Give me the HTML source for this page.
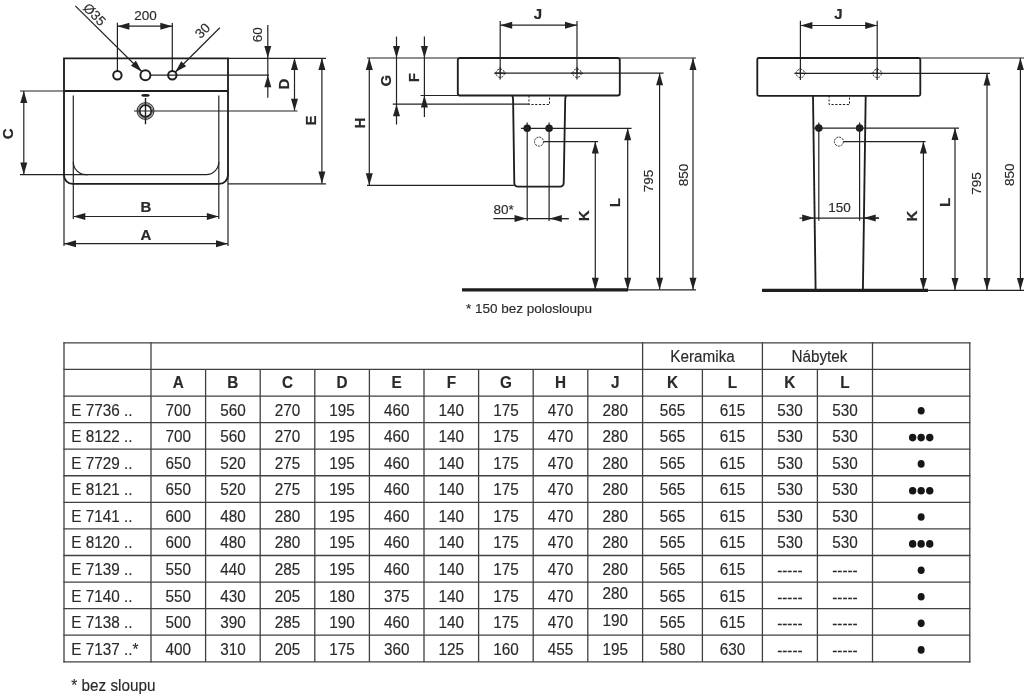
<!DOCTYPE html>
<html><head><meta charset="utf-8"><style>
html,body{margin:0;padding:0;background:#fff;width:1024px;height:695px;overflow:hidden}
svg{display:block;filter:blur(0.35px)}
text{font-family:"Liberation Sans",sans-serif}
</style></head><body>
<svg width="1024" height="695" viewBox="0 0 1024 695">
<rect width="1024" height="695" fill="#fff"/>
<path d="M64,58.4 H228 V175 A8.9,8.9 0 0 1 219.1,183.9 H72.5 A8.5,8.5 0 0 1 64,175.4 Z" stroke="#1e1e1e" stroke-width="1.85" fill="none"/>
<line x1="64" y1="91" x2="228" y2="91" stroke="#1e1e1e" stroke-width="2"/>
<line x1="73.3" y1="95.5" x2="73.3" y2="219" stroke="#222222" stroke-width="1.2"/>
<line x1="218.8" y1="95.5" x2="218.8" y2="219" stroke="#222222" stroke-width="1.2"/>
<path d="M73.3,162 A12.6,12.6 0 0 0 85.9,174.6 H206.2 A12.6,12.6 0 0 0 218.8,162" stroke="#222222" stroke-width="1.2" fill="none"/>
<line x1="20" y1="91" x2="64" y2="91" stroke="#222222" stroke-width="1.2"/>
<line x1="20" y1="174.6" x2="88" y2="174.6" stroke="#222222" stroke-width="1.2"/>
<line x1="23.8" y1="91" x2="23.8" y2="174.6" stroke="#222222" stroke-width="1.2"/>
<polygon points="23.8,91 27.3,103 20.3,103" fill="#222222"/>
<polygon points="23.8,174.6 20.3,162.6 27.3,162.6" fill="#222222"/>
<text x="7.7" y="133.8" font-size="15" font-weight="bold" text-anchor="middle" dominant-baseline="central" fill="#2a2a2a" transform="rotate(-90 7.7 133.8)" stroke="#1e1e1e" stroke-width="0.2">C</text>
<line x1="73.3" y1="216.5" x2="218.8" y2="216.5" stroke="#222222" stroke-width="1.2"/>
<polygon points="73.3,216.5 85.3,213 85.3,220" fill="#222222"/>
<polygon points="218.8,216.5 206.8,220 206.8,213" fill="#222222"/>
<text x="145.8" y="206" font-size="15" font-weight="bold" text-anchor="middle" dominant-baseline="central" fill="#2a2a2a" stroke="#1e1e1e" stroke-width="0.2">B</text>
<line x1="64" y1="174" x2="64" y2="246" stroke="#222222" stroke-width="1.2"/>
<line x1="228" y1="172" x2="228" y2="246" stroke="#222222" stroke-width="1.2"/>
<line x1="64" y1="243.7" x2="228" y2="243.7" stroke="#222222" stroke-width="1.2"/>
<polygon points="64,243.7 76,240.2 76,247.2" fill="#222222"/>
<polygon points="228,243.7 216,247.2 216,240.2" fill="#222222"/>
<text x="145.8" y="234.7" font-size="15" font-weight="bold" text-anchor="middle" dominant-baseline="central" fill="#2a2a2a" stroke="#1e1e1e" stroke-width="0.2">A</text>
<circle cx="117.4" cy="75.2" r="4.2" stroke="#1e1e1e" stroke-width="2" fill="none"/>
<circle cx="145.4" cy="75.2" r="5" stroke="#1e1e1e" stroke-width="2" fill="none"/>
<circle cx="172.3" cy="75.2" r="4.2" stroke="#1e1e1e" stroke-width="2" fill="none"/>
<line x1="150.4" y1="75.2" x2="269" y2="75.2" stroke="#222222" stroke-width="1.2"/>
<line x1="117.4" y1="22.7" x2="117.4" y2="71" stroke="#222222" stroke-width="1.2"/>
<line x1="172.3" y1="22.9" x2="172.3" y2="71" stroke="#222222" stroke-width="1.2"/>
<line x1="117.4" y1="26.2" x2="172.3" y2="26.2" stroke="#222222" stroke-width="1.2"/>
<polygon points="117.4,26.2 129.4,22.7 129.4,29.7" fill="#222222"/>
<polygon points="172.3,26.2 160.3,29.7 160.3,22.7" fill="#222222"/>
<text x="145.5" y="15.5" font-size="13.5" text-anchor="middle" dominant-baseline="central" fill="#2a2a2a" stroke="#2a2a2a" stroke-width="0.15">200</text>
<line x1="75.3" y1="5.9" x2="141.9" y2="71.7" stroke="#222222" stroke-width="1.2"/>
<polygon points="141.9,71.7 130.94,65.69 135.89,60.74" fill="#222222"/>
<text x="94.5" y="14.5" font-size="13.5" text-anchor="middle" dominant-baseline="central" fill="#2a2a2a" transform="rotate(45 94.5 14.5)" stroke="#2a2a2a" stroke-width="0.15">Ø35</text>
<line x1="219.8" y1="27.8" x2="175.2" y2="72.2" stroke="#222222" stroke-width="1.2"/>
<polygon points="175.2,72.2 181.21,61.24 186.16,66.19" fill="#222222"/>
<text x="202.6" y="30.7" font-size="13.5" text-anchor="middle" dominant-baseline="central" fill="#2a2a2a" transform="rotate(-45 202.6 30.7)" stroke="#2a2a2a" stroke-width="0.15">30</text>
<circle cx="145.5" cy="111" r="8.4" stroke="#3a3a3a" stroke-width="1.1" fill="none"/>
<circle cx="145.5" cy="111" r="7.2" stroke="#6a6a6a" stroke-width="0.9" fill="none"/>
<circle cx="145.5" cy="111" r="5.8" stroke="#1e1e1e" stroke-width="1.7" fill="none"/>
<line x1="134" y1="111" x2="297.5" y2="111" stroke="#222222" stroke-width="1.2"/>
<line x1="145.5" y1="98" x2="145.5" y2="124.2" stroke="#1e1e1e" stroke-width="1.4"/>
<ellipse cx="145.5" cy="95.4" rx="4.2" ry="1.4" fill="#1e1e1e"/>
<line x1="228" y1="58.4" x2="326" y2="58.4" stroke="#222222" stroke-width="1.2"/>
<line x1="228" y1="183.9" x2="326" y2="183.9" stroke="#222222" stroke-width="1.2"/>
<line x1="267.8" y1="25" x2="267.8" y2="97.7" stroke="#222222" stroke-width="1.2"/>
<polygon points="267.8,58 264.3,46 271.3,46" fill="#222222"/>
<polygon points="267.8,75.2 271.3,87.2 264.3,87.2" fill="#222222"/>
<text x="257.3" y="34.7" font-size="13.5" text-anchor="middle" dominant-baseline="central" fill="#2a2a2a" transform="rotate(-90 257.3 34.7)" stroke="#2a2a2a" stroke-width="0.15">60</text>
<line x1="294.5" y1="58" x2="294.5" y2="110.7" stroke="#222222" stroke-width="1.2"/>
<polygon points="294.5,58 298,70 291,70" fill="#222222"/>
<polygon points="294.5,110.7 291,98.7 298,98.7" fill="#222222"/>
<text x="283.1" y="84" font-size="15" font-weight="bold" text-anchor="middle" dominant-baseline="central" fill="#2a2a2a" transform="rotate(-90 283.1 84)" stroke="#1e1e1e" stroke-width="0.2">D</text>
<line x1="321.9" y1="58" x2="321.9" y2="183.6" stroke="#222222" stroke-width="1.2"/>
<polygon points="321.9,58 325.4,70 318.4,70" fill="#222222"/>
<polygon points="321.9,183.6 318.4,171.6 325.4,171.6" fill="#222222"/>
<text x="310.9" y="120.6" font-size="15" font-weight="bold" text-anchor="middle" dominant-baseline="central" fill="#2a2a2a" transform="rotate(-90 310.9 120.6)" stroke="#1e1e1e" stroke-width="0.2">E</text>
<rect x="457.8" y="58" width="162" height="37.5" rx="2" stroke="#1e1e1e" stroke-width="1.85" fill="none"/>
<path d="M512.3,95.5 Q513.1,97 513.1,100 L514.3,183 Q514.5,186.6 518,186.6 H560 Q563.5,186.6 563.7,183 L565.2,100 Q565.2,97 566.2,95.5" stroke="#1e1e1e" stroke-width="1.85" fill="none"/>
<path d="M529,95.5 V104.5 H549.5 V95.5" stroke="#222222" stroke-width="1" fill="none" stroke-dasharray="2.2,1.6"/>
<line x1="392.7" y1="104.2" x2="529" y2="104.2" stroke="#222222" stroke-width="1.2"/>
<line x1="420.6" y1="95.5" x2="457.8" y2="95.5" stroke="#222222" stroke-width="1.2"/>
<line x1="367" y1="58" x2="457.8" y2="58" stroke="#222222" stroke-width="1.2"/>
<line x1="619.8" y1="58" x2="696" y2="58" stroke="#222222" stroke-width="1.2"/>
<line x1="495" y1="73.2" x2="663.6" y2="73.2" stroke="#222222" stroke-width="1.2"/>
<circle cx="500.2" cy="73.2" r="4.2" stroke="#222222" stroke-width="1" fill="none" stroke-dasharray="2,1.2"/>
<line x1="494.2" y1="73.2" x2="506.2" y2="73.2" stroke="#222222" stroke-width="1.2"/>
<line x1="500.2" y1="67" x2="500.2" y2="79.5" stroke="#222222" stroke-width="1.2"/>
<circle cx="577" cy="73.2" r="4.2" stroke="#222222" stroke-width="1" fill="none" stroke-dasharray="2,1.2"/>
<line x1="571" y1="73.2" x2="583" y2="73.2" stroke="#222222" stroke-width="1.2"/>
<line x1="577" y1="67" x2="577" y2="79.5" stroke="#222222" stroke-width="1.2"/>
<line x1="500.2" y1="21" x2="500.2" y2="73.2" stroke="#222222" stroke-width="1.2"/>
<line x1="577" y1="21" x2="577" y2="73.2" stroke="#222222" stroke-width="1.2"/>
<line x1="500.2" y1="25.2" x2="577" y2="25.2" stroke="#222222" stroke-width="1.2"/>
<polygon points="500.2,25.2 512.2,21.7 512.2,28.7" fill="#222222"/>
<polygon points="577,25.2 565,28.7 565,21.7" fill="#222222"/>
<text x="538" y="13.5" font-size="15" font-weight="bold" text-anchor="middle" dominant-baseline="central" fill="#2a2a2a" stroke="#1e1e1e" stroke-width="0.2">J</text>
<line x1="396.5" y1="36.6" x2="396.5" y2="124.5" stroke="#222222" stroke-width="1.2"/>
<polygon points="396.5,58 393,46 400,46" fill="#222222"/>
<polygon points="396.5,104.2 400,116.2 393,116.2" fill="#222222"/>
<text x="386" y="80.6" font-size="15" font-weight="bold" text-anchor="middle" dominant-baseline="central" fill="#2a2a2a" transform="rotate(-90 386 80.6)" stroke="#1e1e1e" stroke-width="0.2">G</text>
<line x1="424.4" y1="36.6" x2="424.4" y2="117" stroke="#222222" stroke-width="1.2"/>
<polygon points="424.4,58 420.9,46 427.9,46" fill="#222222"/>
<polygon points="424.4,95.5 427.9,107.5 420.9,107.5" fill="#222222"/>
<text x="413.2" y="77.6" font-size="15" font-weight="bold" text-anchor="middle" dominant-baseline="central" fill="#2a2a2a" transform="rotate(-90 413.2 77.6)" stroke="#1e1e1e" stroke-width="0.2">F</text>
<line x1="369.3" y1="58" x2="369.3" y2="185.2" stroke="#222222" stroke-width="1.2"/>
<polygon points="369.3,58 372.8,70 365.8,70" fill="#222222"/>
<polygon points="369.3,185.2 365.8,173.2 372.8,173.2" fill="#222222"/>
<text x="359" y="123" font-size="15" font-weight="bold" text-anchor="middle" dominant-baseline="central" fill="#2a2a2a" transform="rotate(-90 359 123)" stroke="#1e1e1e" stroke-width="0.2">H</text>
<line x1="367" y1="185.3" x2="514.5" y2="185.3" stroke="#222222" stroke-width="1.2"/>
<circle cx="527.2" cy="128.3" r="3.8" stroke="#1e1e1e" stroke-width="0" fill="#1e1e1e"/>
<line x1="527.2" y1="122.5" x2="527.2" y2="220.9" stroke="#222222" stroke-width="1.2"/>
<circle cx="549.1" cy="128.3" r="3.8" stroke="#1e1e1e" stroke-width="0" fill="#1e1e1e"/>
<line x1="549.1" y1="122.5" x2="549.1" y2="220.9" stroke="#222222" stroke-width="1.2"/>
<line x1="521" y1="128.3" x2="631.5" y2="128.3" stroke="#222222" stroke-width="1.2"/>
<circle cx="539" cy="141.6" r="4.5" stroke="#222222" stroke-width="1" fill="none" stroke-dasharray="2,1"/>
<line x1="543.5" y1="141.6" x2="598" y2="141.6" stroke="#222222" stroke-width="1.2"/>
<line x1="493.4" y1="218.6" x2="568.7" y2="218.6" stroke="#222222" stroke-width="1.2"/>
<polygon points="526.5,218.6 514.5,222.1 514.5,215.1" fill="#222222"/>
<line x1="549.8" y1="218.6" x2="568.7" y2="218.6" stroke="#222222" stroke-width="1.2"/>
<polygon points="549.8,218.6 561.8,215.1 561.8,222.1" fill="#222222"/>
<text x="493.4" y="209.5" font-size="13.5" text-anchor="start" dominant-baseline="central" fill="#2a2a2a" stroke="#2a2a2a" stroke-width="0.15">80*</text>
<line x1="595.3" y1="141.6" x2="595.3" y2="289.7" stroke="#222222" stroke-width="1.2"/>
<polygon points="595.3,141.6 598.8,153.6 591.8,153.6" fill="#222222"/>
<polygon points="595.3,289.7 591.8,277.7 598.8,277.7" fill="#222222"/>
<text x="584" y="215.9" font-size="15" font-weight="bold" text-anchor="middle" dominant-baseline="central" fill="#2a2a2a" transform="rotate(-90 584 215.9)" stroke="#1e1e1e" stroke-width="0.2">K</text>
<line x1="627.7" y1="128.3" x2="627.7" y2="289.7" stroke="#222222" stroke-width="1.2"/>
<polygon points="627.7,128.3 631.2,140.3 624.2,140.3" fill="#222222"/>
<polygon points="627.7,289.7 624.2,277.7 631.2,277.7" fill="#222222"/>
<text x="615" y="202.7" font-size="15" font-weight="bold" text-anchor="middle" dominant-baseline="central" fill="#2a2a2a" transform="rotate(-90 615 202.7)" stroke="#1e1e1e" stroke-width="0.2">L</text>
<line x1="659.6" y1="73.2" x2="659.6" y2="289.7" stroke="#222222" stroke-width="1.2"/>
<polygon points="659.6,73.2 663.1,85.2 656.1,85.2" fill="#222222"/>
<polygon points="659.6,289.7 656.1,277.7 663.1,277.7" fill="#222222"/>
<text x="648.7" y="181" font-size="13.5" text-anchor="middle" dominant-baseline="central" fill="#2a2a2a" transform="rotate(-90 648.7 181)" stroke="#2a2a2a" stroke-width="0.15">795</text>
<line x1="693" y1="58" x2="693" y2="289.7" stroke="#222222" stroke-width="1.2"/>
<polygon points="693,58 696.5,70 689.5,70" fill="#222222"/>
<polygon points="693,289.7 689.5,277.7 696.5,277.7" fill="#222222"/>
<text x="683.7" y="175" font-size="13.5" text-anchor="middle" dominant-baseline="central" fill="#2a2a2a" transform="rotate(-90 683.7 175)" stroke="#2a2a2a" stroke-width="0.15">850</text>
<line x1="462" y1="289.8" x2="628" y2="289.8" stroke="#1e1e1e" stroke-width="3.2"/>
<line x1="628" y1="289.8" x2="696" y2="289.8" stroke="#222222" stroke-width="1.2"/>
<text x="466" y="308.5" font-size="13.5" text-anchor="start" dominant-baseline="central" fill="#2a2a2a" stroke="#2a2a2a" stroke-width="0.15">* 150 bez polosloupu</text>
<rect x="757.3" y="58" width="163" height="37.8" rx="1.5" stroke="#1e1e1e" stroke-width="1.85" fill="none"/>
<line x1="920.4" y1="58" x2="1024" y2="58" stroke="#222222" stroke-width="1.2"/>
<line x1="795" y1="73.4" x2="990" y2="73.4" stroke="#222222" stroke-width="1.2"/>
<circle cx="800.4" cy="73.4" r="4.2" stroke="#222222" stroke-width="1" fill="none" stroke-dasharray="2,1.2"/>
<line x1="794.4" y1="73.4" x2="806.4" y2="73.4" stroke="#222222" stroke-width="1.2"/>
<line x1="800.4" y1="67.4" x2="800.4" y2="79.9" stroke="#222222" stroke-width="1.2"/>
<circle cx="877.2" cy="73.4" r="4.2" stroke="#222222" stroke-width="1" fill="none" stroke-dasharray="2,1.2"/>
<line x1="871.2" y1="73.4" x2="883.2" y2="73.4" stroke="#222222" stroke-width="1.2"/>
<line x1="877.2" y1="67.4" x2="877.2" y2="79.9" stroke="#222222" stroke-width="1.2"/>
<line x1="800.4" y1="20.7" x2="800.4" y2="73.4" stroke="#222222" stroke-width="1.2"/>
<line x1="877.2" y1="20.7" x2="877.2" y2="73.4" stroke="#222222" stroke-width="1.2"/>
<line x1="800.4" y1="25.5" x2="877.2" y2="25.5" stroke="#222222" stroke-width="1.2"/>
<polygon points="800.4,25.5 812.4,22 812.4,29" fill="#222222"/>
<polygon points="877.2,25.5 865.2,29 865.2,22" fill="#222222"/>
<text x="838.4" y="13.8" font-size="15" font-weight="bold" text-anchor="middle" dominant-baseline="central" fill="#2a2a2a" stroke="#1e1e1e" stroke-width="0.2">J</text>
<line x1="813" y1="95.5" x2="815.6" y2="290" stroke="#1e1e1e" stroke-width="1.85"/>
<line x1="865.7" y1="95.5" x2="862.9" y2="290" stroke="#1e1e1e" stroke-width="1.85"/>
<path d="M829.1,95.5 V104.5 H849.5 V95.5" stroke="#222222" stroke-width="1" fill="none" stroke-dasharray="2.2,1.6"/>
<circle cx="818.8" cy="128.1" r="3.8" stroke="#1e1e1e" stroke-width="0" fill="#1e1e1e"/>
<line x1="818.8" y1="122.5" x2="818.8" y2="220.8" stroke="#222222" stroke-width="1.2"/>
<circle cx="859.6" cy="128.1" r="3.8" stroke="#1e1e1e" stroke-width="0" fill="#1e1e1e"/>
<line x1="859.6" y1="122.5" x2="859.6" y2="220.8" stroke="#222222" stroke-width="1.2"/>
<line x1="813" y1="128.1" x2="959" y2="128.1" stroke="#222222" stroke-width="1.2"/>
<circle cx="838.9" cy="141.6" r="4.5" stroke="#222222" stroke-width="1" fill="none" stroke-dasharray="2,1"/>
<line x1="843.4" y1="141.6" x2="925.6" y2="141.6" stroke="#222222" stroke-width="1.2"/>
<line x1="799.5" y1="218.1" x2="879" y2="218.1" stroke="#222222" stroke-width="1.2"/>
<polygon points="814.2,218.1 802.2,221.6 802.2,214.6" fill="#222222"/>
<line x1="863.7" y1="218.1" x2="879" y2="218.1" stroke="#222222" stroke-width="1.2"/>
<polygon points="863.7,218.1 875.7,214.6 875.7,221.6" fill="#222222"/>
<text x="839.6" y="207.4" font-size="13.5" text-anchor="middle" dominant-baseline="central" fill="#2a2a2a" stroke="#2a2a2a" stroke-width="0.15">150</text>
<line x1="923.4" y1="141.6" x2="923.4" y2="290" stroke="#222222" stroke-width="1.2"/>
<polygon points="923.4,141.6 926.9,153.6 919.9,153.6" fill="#222222"/>
<polygon points="923.4,290 919.9,278 926.9,278" fill="#222222"/>
<text x="911.8" y="216" font-size="15" font-weight="bold" text-anchor="middle" dominant-baseline="central" fill="#2a2a2a" transform="rotate(-90 911.8 216)" stroke="#1e1e1e" stroke-width="0.2">K</text>
<line x1="955" y1="128.1" x2="955" y2="290" stroke="#222222" stroke-width="1.2"/>
<polygon points="955,128.1 958.5,140.1 951.5,140.1" fill="#222222"/>
<polygon points="955,290 951.5,278 958.5,278" fill="#222222"/>
<text x="944.5" y="202.5" font-size="15" font-weight="bold" text-anchor="middle" dominant-baseline="central" fill="#2a2a2a" transform="rotate(-90 944.5 202.5)" stroke="#1e1e1e" stroke-width="0.2">L</text>
<line x1="987" y1="73.4" x2="987" y2="290" stroke="#222222" stroke-width="1.2"/>
<polygon points="987,73.4 990.5,85.4 983.5,85.4" fill="#222222"/>
<polygon points="987,290 983.5,278 990.5,278" fill="#222222"/>
<text x="976.5" y="183.4" font-size="13.5" text-anchor="middle" dominant-baseline="central" fill="#2a2a2a" transform="rotate(-90 976.5 183.4)" stroke="#2a2a2a" stroke-width="0.15">795</text>
<line x1="1020.4" y1="58" x2="1020.4" y2="290" stroke="#222222" stroke-width="1.2"/>
<polygon points="1020.4,58 1023.9,70 1016.9,70" fill="#222222"/>
<polygon points="1020.4,290 1016.9,278 1023.9,278" fill="#222222"/>
<text x="1009.7" y="174.8" font-size="13.5" text-anchor="middle" dominant-baseline="central" fill="#2a2a2a" transform="rotate(-90 1009.7 174.8)" stroke="#2a2a2a" stroke-width="0.15">850</text>
<line x1="762" y1="290.3" x2="928" y2="290.3" stroke="#1e1e1e" stroke-width="3.2"/>
<line x1="928" y1="290.3" x2="1024" y2="290.3" stroke="#222222" stroke-width="1.2"/>
<line x1="63.4" y1="342.9" x2="970.4" y2="342.9" stroke="#404040" stroke-width="1.3"/>
<line x1="63.4" y1="369.47" x2="970.4" y2="369.47" stroke="#404040" stroke-width="1.3"/>
<line x1="63.4" y1="396.05" x2="970.4" y2="396.05" stroke="#404040" stroke-width="1.3"/>
<line x1="63.4" y1="422.62" x2="970.4" y2="422.62" stroke="#404040" stroke-width="1.3"/>
<line x1="63.4" y1="449.2" x2="970.4" y2="449.2" stroke="#404040" stroke-width="1.3"/>
<line x1="63.4" y1="475.77" x2="970.4" y2="475.77" stroke="#404040" stroke-width="1.3"/>
<line x1="63.4" y1="502.35" x2="970.4" y2="502.35" stroke="#404040" stroke-width="1.3"/>
<line x1="63.4" y1="528.92" x2="970.4" y2="528.92" stroke="#404040" stroke-width="1.3"/>
<line x1="63.4" y1="555.5" x2="970.4" y2="555.5" stroke="#404040" stroke-width="1.3"/>
<line x1="63.4" y1="582.07" x2="970.4" y2="582.07" stroke="#404040" stroke-width="1.3"/>
<line x1="63.4" y1="608.65" x2="970.4" y2="608.65" stroke="#404040" stroke-width="1.3"/>
<line x1="63.4" y1="635.22" x2="970.4" y2="635.22" stroke="#404040" stroke-width="1.3"/>
<line x1="63.4" y1="661.8" x2="970.4" y2="661.8" stroke="#404040" stroke-width="1.3"/>
<line x1="64" y1="342.3" x2="64" y2="662.4" stroke="#404040" stroke-width="1.3"/>
<line x1="151" y1="342.3" x2="151" y2="662.4" stroke="#404040" stroke-width="1.3"/>
<line x1="205.6" y1="369.47" x2="205.6" y2="661.8" stroke="#404040" stroke-width="1.3"/>
<line x1="260.2" y1="369.47" x2="260.2" y2="661.8" stroke="#404040" stroke-width="1.3"/>
<line x1="314.8" y1="369.47" x2="314.8" y2="661.8" stroke="#404040" stroke-width="1.3"/>
<line x1="369.4" y1="369.47" x2="369.4" y2="661.8" stroke="#404040" stroke-width="1.3"/>
<line x1="424" y1="369.47" x2="424" y2="661.8" stroke="#404040" stroke-width="1.3"/>
<line x1="478.6" y1="369.47" x2="478.6" y2="661.8" stroke="#404040" stroke-width="1.3"/>
<line x1="533.2" y1="369.47" x2="533.2" y2="661.8" stroke="#404040" stroke-width="1.3"/>
<line x1="587.8" y1="369.47" x2="587.8" y2="661.8" stroke="#404040" stroke-width="1.3"/>
<line x1="642.6" y1="342.3" x2="642.6" y2="662.4" stroke="#404040" stroke-width="1.3"/>
<line x1="702.4" y1="369.47" x2="702.4" y2="661.8" stroke="#404040" stroke-width="1.3"/>
<line x1="762.4" y1="342.3" x2="762.4" y2="662.4" stroke="#404040" stroke-width="1.3"/>
<line x1="817.4" y1="369.47" x2="817.4" y2="661.8" stroke="#404040" stroke-width="1.3"/>
<line x1="872.5" y1="342.3" x2="872.5" y2="662.4" stroke="#404040" stroke-width="1.3"/>
<line x1="969.8" y1="342.3" x2="969.8" y2="662.4" stroke="#404040" stroke-width="1.3"/>
<text x="0" y="0" font-size="15.3" text-anchor="middle" dominant-baseline="central" fill="#2a2a2a" transform="translate(702.5 356.19) scale(1 1.1)" stroke="#2a2a2a" stroke-width="0.15">Keramika</text>
<text x="0" y="0" font-size="15.3" text-anchor="middle" dominant-baseline="central" fill="#2a2a2a" transform="translate(819.45 356.19) scale(1 1.1)" stroke="#2a2a2a" stroke-width="0.15">Nábytek</text>
<text x="0" y="0" font-size="15.3" font-weight="bold" text-anchor="middle" dominant-baseline="central" fill="#2a2a2a" transform="translate(178.3 381.76) scale(1 1.1)" stroke="#2a2a2a" stroke-width="0.15">A</text>
<text x="0" y="0" font-size="15.3" font-weight="bold" text-anchor="middle" dominant-baseline="central" fill="#2a2a2a" transform="translate(232.9 381.76) scale(1 1.1)" stroke="#2a2a2a" stroke-width="0.15">B</text>
<text x="0" y="0" font-size="15.3" font-weight="bold" text-anchor="middle" dominant-baseline="central" fill="#2a2a2a" transform="translate(287.5 381.76) scale(1 1.1)" stroke="#2a2a2a" stroke-width="0.15">C</text>
<text x="0" y="0" font-size="15.3" font-weight="bold" text-anchor="middle" dominant-baseline="central" fill="#2a2a2a" transform="translate(342.1 381.76) scale(1 1.1)" stroke="#2a2a2a" stroke-width="0.15">D</text>
<text x="0" y="0" font-size="15.3" font-weight="bold" text-anchor="middle" dominant-baseline="central" fill="#2a2a2a" transform="translate(396.7 381.76) scale(1 1.1)" stroke="#2a2a2a" stroke-width="0.15">E</text>
<text x="0" y="0" font-size="15.3" font-weight="bold" text-anchor="middle" dominant-baseline="central" fill="#2a2a2a" transform="translate(451.3 381.76) scale(1 1.1)" stroke="#2a2a2a" stroke-width="0.15">F</text>
<text x="0" y="0" font-size="15.3" font-weight="bold" text-anchor="middle" dominant-baseline="central" fill="#2a2a2a" transform="translate(505.9 381.76) scale(1 1.1)" stroke="#2a2a2a" stroke-width="0.15">G</text>
<text x="0" y="0" font-size="15.3" font-weight="bold" text-anchor="middle" dominant-baseline="central" fill="#2a2a2a" transform="translate(560.5 381.76) scale(1 1.1)" stroke="#2a2a2a" stroke-width="0.15">H</text>
<text x="0" y="0" font-size="15.3" font-weight="bold" text-anchor="middle" dominant-baseline="central" fill="#2a2a2a" transform="translate(615.2 381.76) scale(1 1.1)" stroke="#2a2a2a" stroke-width="0.15">J</text>
<text x="0" y="0" font-size="15.3" font-weight="bold" text-anchor="middle" dominant-baseline="central" fill="#2a2a2a" transform="translate(672.5 381.76) scale(1 1.1)" stroke="#2a2a2a" stroke-width="0.15">K</text>
<text x="0" y="0" font-size="15.3" font-weight="bold" text-anchor="middle" dominant-baseline="central" fill="#2a2a2a" transform="translate(732.4 381.76) scale(1 1.1)" stroke="#2a2a2a" stroke-width="0.15">L</text>
<text x="0" y="0" font-size="15.3" font-weight="bold" text-anchor="middle" dominant-baseline="central" fill="#2a2a2a" transform="translate(789.9 381.76) scale(1 1.1)" stroke="#2a2a2a" stroke-width="0.15">K</text>
<text x="0" y="0" font-size="15.3" font-weight="bold" text-anchor="middle" dominant-baseline="central" fill="#2a2a2a" transform="translate(844.95 381.76) scale(1 1.1)" stroke="#2a2a2a" stroke-width="0.15">L</text>
<text x="0" y="0" font-size="15.3" text-anchor="start" dominant-baseline="central" fill="#2a2a2a" transform="translate(71.3 409.34) scale(1 1.1)" stroke="#2a2a2a" stroke-width="0.15">E 7736 ..</text>
<text x="0" y="0" font-size="15.3" text-anchor="middle" dominant-baseline="central" fill="#2a2a2a" transform="translate(178.3 409.34) scale(1 1.1)" stroke="#2a2a2a" stroke-width="0.15">700</text>
<text x="0" y="0" font-size="15.3" text-anchor="middle" dominant-baseline="central" fill="#2a2a2a" transform="translate(232.9 409.34) scale(1 1.1)" stroke="#2a2a2a" stroke-width="0.15">560</text>
<text x="0" y="0" font-size="15.3" text-anchor="middle" dominant-baseline="central" fill="#2a2a2a" transform="translate(287.5 409.34) scale(1 1.1)" stroke="#2a2a2a" stroke-width="0.15">270</text>
<text x="0" y="0" font-size="15.3" text-anchor="middle" dominant-baseline="central" fill="#2a2a2a" transform="translate(342.1 409.34) scale(1 1.1)" stroke="#2a2a2a" stroke-width="0.15">195</text>
<text x="0" y="0" font-size="15.3" text-anchor="middle" dominant-baseline="central" fill="#2a2a2a" transform="translate(396.7 409.34) scale(1 1.1)" stroke="#2a2a2a" stroke-width="0.15">460</text>
<text x="0" y="0" font-size="15.3" text-anchor="middle" dominant-baseline="central" fill="#2a2a2a" transform="translate(451.3 409.34) scale(1 1.1)" stroke="#2a2a2a" stroke-width="0.15">140</text>
<text x="0" y="0" font-size="15.3" text-anchor="middle" dominant-baseline="central" fill="#2a2a2a" transform="translate(505.9 409.34) scale(1 1.1)" stroke="#2a2a2a" stroke-width="0.15">175</text>
<text x="0" y="0" font-size="15.3" text-anchor="middle" dominant-baseline="central" fill="#2a2a2a" transform="translate(560.5 409.34) scale(1 1.1)" stroke="#2a2a2a" stroke-width="0.15">470</text>
<text x="0" y="0" font-size="15.3" text-anchor="middle" dominant-baseline="central" fill="#2a2a2a" transform="translate(615.2 409.34) scale(1 1.1)" stroke="#2a2a2a" stroke-width="0.15">280</text>
<text x="0" y="0" font-size="15.3" text-anchor="middle" dominant-baseline="central" fill="#2a2a2a" transform="translate(672.5 409.34) scale(1 1.1)" stroke="#2a2a2a" stroke-width="0.15">565</text>
<text x="0" y="0" font-size="15.3" text-anchor="middle" dominant-baseline="central" fill="#2a2a2a" transform="translate(732.4 409.34) scale(1 1.1)" stroke="#2a2a2a" stroke-width="0.15">615</text>
<text x="0" y="0" font-size="15.3" text-anchor="middle" dominant-baseline="central" fill="#2a2a2a" transform="translate(789.9 409.34) scale(1 1.1)" stroke="#2a2a2a" stroke-width="0.15">530</text>
<text x="0" y="0" font-size="15.3" text-anchor="middle" dominant-baseline="central" fill="#2a2a2a" transform="translate(844.95 409.34) scale(1 1.1)" stroke="#2a2a2a" stroke-width="0.15">530</text>
<ellipse cx="921.15" cy="410.74" rx="3.5" ry="3.8" fill="#161616"/>
<text x="0" y="0" font-size="15.3" text-anchor="start" dominant-baseline="central" fill="#2a2a2a" transform="translate(71.3 435.91) scale(1 1.1)" stroke="#2a2a2a" stroke-width="0.15">E 8122 ..</text>
<text x="0" y="0" font-size="15.3" text-anchor="middle" dominant-baseline="central" fill="#2a2a2a" transform="translate(178.3 435.91) scale(1 1.1)" stroke="#2a2a2a" stroke-width="0.15">700</text>
<text x="0" y="0" font-size="15.3" text-anchor="middle" dominant-baseline="central" fill="#2a2a2a" transform="translate(232.9 435.91) scale(1 1.1)" stroke="#2a2a2a" stroke-width="0.15">560</text>
<text x="0" y="0" font-size="15.3" text-anchor="middle" dominant-baseline="central" fill="#2a2a2a" transform="translate(287.5 435.91) scale(1 1.1)" stroke="#2a2a2a" stroke-width="0.15">270</text>
<text x="0" y="0" font-size="15.3" text-anchor="middle" dominant-baseline="central" fill="#2a2a2a" transform="translate(342.1 435.91) scale(1 1.1)" stroke="#2a2a2a" stroke-width="0.15">195</text>
<text x="0" y="0" font-size="15.3" text-anchor="middle" dominant-baseline="central" fill="#2a2a2a" transform="translate(396.7 435.91) scale(1 1.1)" stroke="#2a2a2a" stroke-width="0.15">460</text>
<text x="0" y="0" font-size="15.3" text-anchor="middle" dominant-baseline="central" fill="#2a2a2a" transform="translate(451.3 435.91) scale(1 1.1)" stroke="#2a2a2a" stroke-width="0.15">140</text>
<text x="0" y="0" font-size="15.3" text-anchor="middle" dominant-baseline="central" fill="#2a2a2a" transform="translate(505.9 435.91) scale(1 1.1)" stroke="#2a2a2a" stroke-width="0.15">175</text>
<text x="0" y="0" font-size="15.3" text-anchor="middle" dominant-baseline="central" fill="#2a2a2a" transform="translate(560.5 435.91) scale(1 1.1)" stroke="#2a2a2a" stroke-width="0.15">470</text>
<text x="0" y="0" font-size="15.3" text-anchor="middle" dominant-baseline="central" fill="#2a2a2a" transform="translate(615.2 435.91) scale(1 1.1)" stroke="#2a2a2a" stroke-width="0.15">280</text>
<text x="0" y="0" font-size="15.3" text-anchor="middle" dominant-baseline="central" fill="#2a2a2a" transform="translate(672.5 435.91) scale(1 1.1)" stroke="#2a2a2a" stroke-width="0.15">565</text>
<text x="0" y="0" font-size="15.3" text-anchor="middle" dominant-baseline="central" fill="#2a2a2a" transform="translate(732.4 435.91) scale(1 1.1)" stroke="#2a2a2a" stroke-width="0.15">615</text>
<text x="0" y="0" font-size="15.3" text-anchor="middle" dominant-baseline="central" fill="#2a2a2a" transform="translate(789.9 435.91) scale(1 1.1)" stroke="#2a2a2a" stroke-width="0.15">530</text>
<text x="0" y="0" font-size="15.3" text-anchor="middle" dominant-baseline="central" fill="#2a2a2a" transform="translate(844.95 435.91) scale(1 1.1)" stroke="#2a2a2a" stroke-width="0.15">530</text>
<ellipse cx="912.65" cy="437.61" rx="3.7" ry="3.8" fill="#161616"/>
<ellipse cx="921.15" cy="437.61" rx="3.7" ry="3.8" fill="#161616"/>
<ellipse cx="929.75" cy="437.61" rx="3.7" ry="3.8" fill="#161616"/>
<text x="0" y="0" font-size="15.3" text-anchor="start" dominant-baseline="central" fill="#2a2a2a" transform="translate(71.3 462.49) scale(1 1.1)" stroke="#2a2a2a" stroke-width="0.15">E 7729 ..</text>
<text x="0" y="0" font-size="15.3" text-anchor="middle" dominant-baseline="central" fill="#2a2a2a" transform="translate(178.3 462.49) scale(1 1.1)" stroke="#2a2a2a" stroke-width="0.15">650</text>
<text x="0" y="0" font-size="15.3" text-anchor="middle" dominant-baseline="central" fill="#2a2a2a" transform="translate(232.9 462.49) scale(1 1.1)" stroke="#2a2a2a" stroke-width="0.15">520</text>
<text x="0" y="0" font-size="15.3" text-anchor="middle" dominant-baseline="central" fill="#2a2a2a" transform="translate(287.5 462.49) scale(1 1.1)" stroke="#2a2a2a" stroke-width="0.15">275</text>
<text x="0" y="0" font-size="15.3" text-anchor="middle" dominant-baseline="central" fill="#2a2a2a" transform="translate(342.1 462.49) scale(1 1.1)" stroke="#2a2a2a" stroke-width="0.15">195</text>
<text x="0" y="0" font-size="15.3" text-anchor="middle" dominant-baseline="central" fill="#2a2a2a" transform="translate(396.7 462.49) scale(1 1.1)" stroke="#2a2a2a" stroke-width="0.15">460</text>
<text x="0" y="0" font-size="15.3" text-anchor="middle" dominant-baseline="central" fill="#2a2a2a" transform="translate(451.3 462.49) scale(1 1.1)" stroke="#2a2a2a" stroke-width="0.15">140</text>
<text x="0" y="0" font-size="15.3" text-anchor="middle" dominant-baseline="central" fill="#2a2a2a" transform="translate(505.9 462.49) scale(1 1.1)" stroke="#2a2a2a" stroke-width="0.15">175</text>
<text x="0" y="0" font-size="15.3" text-anchor="middle" dominant-baseline="central" fill="#2a2a2a" transform="translate(560.5 462.49) scale(1 1.1)" stroke="#2a2a2a" stroke-width="0.15">470</text>
<text x="0" y="0" font-size="15.3" text-anchor="middle" dominant-baseline="central" fill="#2a2a2a" transform="translate(615.2 462.49) scale(1 1.1)" stroke="#2a2a2a" stroke-width="0.15">280</text>
<text x="0" y="0" font-size="15.3" text-anchor="middle" dominant-baseline="central" fill="#2a2a2a" transform="translate(672.5 462.49) scale(1 1.1)" stroke="#2a2a2a" stroke-width="0.15">565</text>
<text x="0" y="0" font-size="15.3" text-anchor="middle" dominant-baseline="central" fill="#2a2a2a" transform="translate(732.4 462.49) scale(1 1.1)" stroke="#2a2a2a" stroke-width="0.15">615</text>
<text x="0" y="0" font-size="15.3" text-anchor="middle" dominant-baseline="central" fill="#2a2a2a" transform="translate(789.9 462.49) scale(1 1.1)" stroke="#2a2a2a" stroke-width="0.15">530</text>
<text x="0" y="0" font-size="15.3" text-anchor="middle" dominant-baseline="central" fill="#2a2a2a" transform="translate(844.95 462.49) scale(1 1.1)" stroke="#2a2a2a" stroke-width="0.15">530</text>
<ellipse cx="921.15" cy="463.89" rx="3.5" ry="3.8" fill="#161616"/>
<text x="0" y="0" font-size="15.3" text-anchor="start" dominant-baseline="central" fill="#2a2a2a" transform="translate(71.3 489.06) scale(1 1.1)" stroke="#2a2a2a" stroke-width="0.15">E 8121 ..</text>
<text x="0" y="0" font-size="15.3" text-anchor="middle" dominant-baseline="central" fill="#2a2a2a" transform="translate(178.3 489.06) scale(1 1.1)" stroke="#2a2a2a" stroke-width="0.15">650</text>
<text x="0" y="0" font-size="15.3" text-anchor="middle" dominant-baseline="central" fill="#2a2a2a" transform="translate(232.9 489.06) scale(1 1.1)" stroke="#2a2a2a" stroke-width="0.15">520</text>
<text x="0" y="0" font-size="15.3" text-anchor="middle" dominant-baseline="central" fill="#2a2a2a" transform="translate(287.5 489.06) scale(1 1.1)" stroke="#2a2a2a" stroke-width="0.15">275</text>
<text x="0" y="0" font-size="15.3" text-anchor="middle" dominant-baseline="central" fill="#2a2a2a" transform="translate(342.1 489.06) scale(1 1.1)" stroke="#2a2a2a" stroke-width="0.15">195</text>
<text x="0" y="0" font-size="15.3" text-anchor="middle" dominant-baseline="central" fill="#2a2a2a" transform="translate(396.7 489.06) scale(1 1.1)" stroke="#2a2a2a" stroke-width="0.15">460</text>
<text x="0" y="0" font-size="15.3" text-anchor="middle" dominant-baseline="central" fill="#2a2a2a" transform="translate(451.3 489.06) scale(1 1.1)" stroke="#2a2a2a" stroke-width="0.15">140</text>
<text x="0" y="0" font-size="15.3" text-anchor="middle" dominant-baseline="central" fill="#2a2a2a" transform="translate(505.9 489.06) scale(1 1.1)" stroke="#2a2a2a" stroke-width="0.15">175</text>
<text x="0" y="0" font-size="15.3" text-anchor="middle" dominant-baseline="central" fill="#2a2a2a" transform="translate(560.5 489.06) scale(1 1.1)" stroke="#2a2a2a" stroke-width="0.15">470</text>
<text x="0" y="0" font-size="15.3" text-anchor="middle" dominant-baseline="central" fill="#2a2a2a" transform="translate(615.2 489.06) scale(1 1.1)" stroke="#2a2a2a" stroke-width="0.15">280</text>
<text x="0" y="0" font-size="15.3" text-anchor="middle" dominant-baseline="central" fill="#2a2a2a" transform="translate(672.5 489.06) scale(1 1.1)" stroke="#2a2a2a" stroke-width="0.15">565</text>
<text x="0" y="0" font-size="15.3" text-anchor="middle" dominant-baseline="central" fill="#2a2a2a" transform="translate(732.4 489.06) scale(1 1.1)" stroke="#2a2a2a" stroke-width="0.15">615</text>
<text x="0" y="0" font-size="15.3" text-anchor="middle" dominant-baseline="central" fill="#2a2a2a" transform="translate(789.9 489.06) scale(1 1.1)" stroke="#2a2a2a" stroke-width="0.15">530</text>
<text x="0" y="0" font-size="15.3" text-anchor="middle" dominant-baseline="central" fill="#2a2a2a" transform="translate(844.95 489.06) scale(1 1.1)" stroke="#2a2a2a" stroke-width="0.15">530</text>
<ellipse cx="912.65" cy="490.76" rx="3.7" ry="3.8" fill="#161616"/>
<ellipse cx="921.15" cy="490.76" rx="3.7" ry="3.8" fill="#161616"/>
<ellipse cx="929.75" cy="490.76" rx="3.7" ry="3.8" fill="#161616"/>
<text x="0" y="0" font-size="15.3" text-anchor="start" dominant-baseline="central" fill="#2a2a2a" transform="translate(71.3 515.64) scale(1 1.1)" stroke="#2a2a2a" stroke-width="0.15">E 7141 ..</text>
<text x="0" y="0" font-size="15.3" text-anchor="middle" dominant-baseline="central" fill="#2a2a2a" transform="translate(178.3 515.64) scale(1 1.1)" stroke="#2a2a2a" stroke-width="0.15">600</text>
<text x="0" y="0" font-size="15.3" text-anchor="middle" dominant-baseline="central" fill="#2a2a2a" transform="translate(232.9 515.64) scale(1 1.1)" stroke="#2a2a2a" stroke-width="0.15">480</text>
<text x="0" y="0" font-size="15.3" text-anchor="middle" dominant-baseline="central" fill="#2a2a2a" transform="translate(287.5 515.64) scale(1 1.1)" stroke="#2a2a2a" stroke-width="0.15">280</text>
<text x="0" y="0" font-size="15.3" text-anchor="middle" dominant-baseline="central" fill="#2a2a2a" transform="translate(342.1 515.64) scale(1 1.1)" stroke="#2a2a2a" stroke-width="0.15">195</text>
<text x="0" y="0" font-size="15.3" text-anchor="middle" dominant-baseline="central" fill="#2a2a2a" transform="translate(396.7 515.64) scale(1 1.1)" stroke="#2a2a2a" stroke-width="0.15">460</text>
<text x="0" y="0" font-size="15.3" text-anchor="middle" dominant-baseline="central" fill="#2a2a2a" transform="translate(451.3 515.64) scale(1 1.1)" stroke="#2a2a2a" stroke-width="0.15">140</text>
<text x="0" y="0" font-size="15.3" text-anchor="middle" dominant-baseline="central" fill="#2a2a2a" transform="translate(505.9 515.64) scale(1 1.1)" stroke="#2a2a2a" stroke-width="0.15">175</text>
<text x="0" y="0" font-size="15.3" text-anchor="middle" dominant-baseline="central" fill="#2a2a2a" transform="translate(560.5 515.64) scale(1 1.1)" stroke="#2a2a2a" stroke-width="0.15">470</text>
<text x="0" y="0" font-size="15.3" text-anchor="middle" dominant-baseline="central" fill="#2a2a2a" transform="translate(615.2 515.64) scale(1 1.1)" stroke="#2a2a2a" stroke-width="0.15">280</text>
<text x="0" y="0" font-size="15.3" text-anchor="middle" dominant-baseline="central" fill="#2a2a2a" transform="translate(672.5 515.64) scale(1 1.1)" stroke="#2a2a2a" stroke-width="0.15">565</text>
<text x="0" y="0" font-size="15.3" text-anchor="middle" dominant-baseline="central" fill="#2a2a2a" transform="translate(732.4 515.64) scale(1 1.1)" stroke="#2a2a2a" stroke-width="0.15">615</text>
<text x="0" y="0" font-size="15.3" text-anchor="middle" dominant-baseline="central" fill="#2a2a2a" transform="translate(789.9 515.64) scale(1 1.1)" stroke="#2a2a2a" stroke-width="0.15">530</text>
<text x="0" y="0" font-size="15.3" text-anchor="middle" dominant-baseline="central" fill="#2a2a2a" transform="translate(844.95 515.64) scale(1 1.1)" stroke="#2a2a2a" stroke-width="0.15">530</text>
<ellipse cx="921.15" cy="517.04" rx="3.5" ry="3.8" fill="#161616"/>
<text x="0" y="0" font-size="15.3" text-anchor="start" dominant-baseline="central" fill="#2a2a2a" transform="translate(71.3 542.21) scale(1 1.1)" stroke="#2a2a2a" stroke-width="0.15">E 8120 ..</text>
<text x="0" y="0" font-size="15.3" text-anchor="middle" dominant-baseline="central" fill="#2a2a2a" transform="translate(178.3 542.21) scale(1 1.1)" stroke="#2a2a2a" stroke-width="0.15">600</text>
<text x="0" y="0" font-size="15.3" text-anchor="middle" dominant-baseline="central" fill="#2a2a2a" transform="translate(232.9 542.21) scale(1 1.1)" stroke="#2a2a2a" stroke-width="0.15">480</text>
<text x="0" y="0" font-size="15.3" text-anchor="middle" dominant-baseline="central" fill="#2a2a2a" transform="translate(287.5 542.21) scale(1 1.1)" stroke="#2a2a2a" stroke-width="0.15">280</text>
<text x="0" y="0" font-size="15.3" text-anchor="middle" dominant-baseline="central" fill="#2a2a2a" transform="translate(342.1 542.21) scale(1 1.1)" stroke="#2a2a2a" stroke-width="0.15">195</text>
<text x="0" y="0" font-size="15.3" text-anchor="middle" dominant-baseline="central" fill="#2a2a2a" transform="translate(396.7 542.21) scale(1 1.1)" stroke="#2a2a2a" stroke-width="0.15">460</text>
<text x="0" y="0" font-size="15.3" text-anchor="middle" dominant-baseline="central" fill="#2a2a2a" transform="translate(451.3 542.21) scale(1 1.1)" stroke="#2a2a2a" stroke-width="0.15">140</text>
<text x="0" y="0" font-size="15.3" text-anchor="middle" dominant-baseline="central" fill="#2a2a2a" transform="translate(505.9 542.21) scale(1 1.1)" stroke="#2a2a2a" stroke-width="0.15">175</text>
<text x="0" y="0" font-size="15.3" text-anchor="middle" dominant-baseline="central" fill="#2a2a2a" transform="translate(560.5 542.21) scale(1 1.1)" stroke="#2a2a2a" stroke-width="0.15">470</text>
<text x="0" y="0" font-size="15.3" text-anchor="middle" dominant-baseline="central" fill="#2a2a2a" transform="translate(615.2 542.21) scale(1 1.1)" stroke="#2a2a2a" stroke-width="0.15">280</text>
<text x="0" y="0" font-size="15.3" text-anchor="middle" dominant-baseline="central" fill="#2a2a2a" transform="translate(672.5 542.21) scale(1 1.1)" stroke="#2a2a2a" stroke-width="0.15">565</text>
<text x="0" y="0" font-size="15.3" text-anchor="middle" dominant-baseline="central" fill="#2a2a2a" transform="translate(732.4 542.21) scale(1 1.1)" stroke="#2a2a2a" stroke-width="0.15">615</text>
<text x="0" y="0" font-size="15.3" text-anchor="middle" dominant-baseline="central" fill="#2a2a2a" transform="translate(789.9 542.21) scale(1 1.1)" stroke="#2a2a2a" stroke-width="0.15">530</text>
<text x="0" y="0" font-size="15.3" text-anchor="middle" dominant-baseline="central" fill="#2a2a2a" transform="translate(844.95 542.21) scale(1 1.1)" stroke="#2a2a2a" stroke-width="0.15">530</text>
<ellipse cx="912.65" cy="543.91" rx="3.7" ry="3.8" fill="#161616"/>
<ellipse cx="921.15" cy="543.91" rx="3.7" ry="3.8" fill="#161616"/>
<ellipse cx="929.75" cy="543.91" rx="3.7" ry="3.8" fill="#161616"/>
<text x="0" y="0" font-size="15.3" text-anchor="start" dominant-baseline="central" fill="#2a2a2a" transform="translate(71.3 568.79) scale(1 1.1)" stroke="#2a2a2a" stroke-width="0.15">E 7139 ..</text>
<text x="0" y="0" font-size="15.3" text-anchor="middle" dominant-baseline="central" fill="#2a2a2a" transform="translate(178.3 568.79) scale(1 1.1)" stroke="#2a2a2a" stroke-width="0.15">550</text>
<text x="0" y="0" font-size="15.3" text-anchor="middle" dominant-baseline="central" fill="#2a2a2a" transform="translate(232.9 568.79) scale(1 1.1)" stroke="#2a2a2a" stroke-width="0.15">440</text>
<text x="0" y="0" font-size="15.3" text-anchor="middle" dominant-baseline="central" fill="#2a2a2a" transform="translate(287.5 568.79) scale(1 1.1)" stroke="#2a2a2a" stroke-width="0.15">285</text>
<text x="0" y="0" font-size="15.3" text-anchor="middle" dominant-baseline="central" fill="#2a2a2a" transform="translate(342.1 568.79) scale(1 1.1)" stroke="#2a2a2a" stroke-width="0.15">195</text>
<text x="0" y="0" font-size="15.3" text-anchor="middle" dominant-baseline="central" fill="#2a2a2a" transform="translate(396.7 568.79) scale(1 1.1)" stroke="#2a2a2a" stroke-width="0.15">460</text>
<text x="0" y="0" font-size="15.3" text-anchor="middle" dominant-baseline="central" fill="#2a2a2a" transform="translate(451.3 568.79) scale(1 1.1)" stroke="#2a2a2a" stroke-width="0.15">140</text>
<text x="0" y="0" font-size="15.3" text-anchor="middle" dominant-baseline="central" fill="#2a2a2a" transform="translate(505.9 568.79) scale(1 1.1)" stroke="#2a2a2a" stroke-width="0.15">175</text>
<text x="0" y="0" font-size="15.3" text-anchor="middle" dominant-baseline="central" fill="#2a2a2a" transform="translate(560.5 568.79) scale(1 1.1)" stroke="#2a2a2a" stroke-width="0.15">470</text>
<text x="0" y="0" font-size="15.3" text-anchor="middle" dominant-baseline="central" fill="#2a2a2a" transform="translate(615.2 568.79) scale(1 1.1)" stroke="#2a2a2a" stroke-width="0.15">280</text>
<text x="0" y="0" font-size="15.3" text-anchor="middle" dominant-baseline="central" fill="#2a2a2a" transform="translate(672.5 568.79) scale(1 1.1)" stroke="#2a2a2a" stroke-width="0.15">565</text>
<text x="0" y="0" font-size="15.3" text-anchor="middle" dominant-baseline="central" fill="#2a2a2a" transform="translate(732.4 568.79) scale(1 1.1)" stroke="#2a2a2a" stroke-width="0.15">615</text>
<text x="0" y="0" font-size="15.3" text-anchor="middle" dominant-baseline="central" fill="#2a2a2a" transform="translate(789.9 569.79) scale(1 1.1)" stroke="#2a2a2a" stroke-width="0.15">-----</text>
<text x="0" y="0" font-size="15.3" text-anchor="middle" dominant-baseline="central" fill="#2a2a2a" transform="translate(844.95 569.79) scale(1 1.1)" stroke="#2a2a2a" stroke-width="0.15">-----</text>
<ellipse cx="921.15" cy="570.19" rx="3.5" ry="3.8" fill="#161616"/>
<text x="0" y="0" font-size="15.3" text-anchor="start" dominant-baseline="central" fill="#2a2a2a" transform="translate(71.3 595.36) scale(1 1.1)" stroke="#2a2a2a" stroke-width="0.15">E 7140 ..</text>
<text x="0" y="0" font-size="15.3" text-anchor="middle" dominant-baseline="central" fill="#2a2a2a" transform="translate(178.3 595.36) scale(1 1.1)" stroke="#2a2a2a" stroke-width="0.15">550</text>
<text x="0" y="0" font-size="15.3" text-anchor="middle" dominant-baseline="central" fill="#2a2a2a" transform="translate(232.9 595.36) scale(1 1.1)" stroke="#2a2a2a" stroke-width="0.15">430</text>
<text x="0" y="0" font-size="15.3" text-anchor="middle" dominant-baseline="central" fill="#2a2a2a" transform="translate(287.5 595.36) scale(1 1.1)" stroke="#2a2a2a" stroke-width="0.15">205</text>
<text x="0" y="0" font-size="15.3" text-anchor="middle" dominant-baseline="central" fill="#2a2a2a" transform="translate(342.1 595.36) scale(1 1.1)" stroke="#2a2a2a" stroke-width="0.15">180</text>
<text x="0" y="0" font-size="15.3" text-anchor="middle" dominant-baseline="central" fill="#2a2a2a" transform="translate(396.7 595.36) scale(1 1.1)" stroke="#2a2a2a" stroke-width="0.15">375</text>
<text x="0" y="0" font-size="15.3" text-anchor="middle" dominant-baseline="central" fill="#2a2a2a" transform="translate(451.3 595.36) scale(1 1.1)" stroke="#2a2a2a" stroke-width="0.15">140</text>
<text x="0" y="0" font-size="15.3" text-anchor="middle" dominant-baseline="central" fill="#2a2a2a" transform="translate(505.9 595.36) scale(1 1.1)" stroke="#2a2a2a" stroke-width="0.15">175</text>
<text x="0" y="0" font-size="15.3" text-anchor="middle" dominant-baseline="central" fill="#2a2a2a" transform="translate(560.5 595.36) scale(1 1.1)" stroke="#2a2a2a" stroke-width="0.15">470</text>
<text x="0" y="0" font-size="15.3" text-anchor="middle" dominant-baseline="central" fill="#2a2a2a" transform="translate(615.2 592.66) scale(1 1.1)" stroke="#2a2a2a" stroke-width="0.15">280</text>
<text x="0" y="0" font-size="15.3" text-anchor="middle" dominant-baseline="central" fill="#2a2a2a" transform="translate(672.5 595.36) scale(1 1.1)" stroke="#2a2a2a" stroke-width="0.15">565</text>
<text x="0" y="0" font-size="15.3" text-anchor="middle" dominant-baseline="central" fill="#2a2a2a" transform="translate(732.4 595.36) scale(1 1.1)" stroke="#2a2a2a" stroke-width="0.15">615</text>
<text x="0" y="0" font-size="15.3" text-anchor="middle" dominant-baseline="central" fill="#2a2a2a" transform="translate(789.9 596.36) scale(1 1.1)" stroke="#2a2a2a" stroke-width="0.15">-----</text>
<text x="0" y="0" font-size="15.3" text-anchor="middle" dominant-baseline="central" fill="#2a2a2a" transform="translate(844.95 596.36) scale(1 1.1)" stroke="#2a2a2a" stroke-width="0.15">-----</text>
<ellipse cx="921.15" cy="596.76" rx="3.5" ry="3.8" fill="#161616"/>
<text x="0" y="0" font-size="15.3" text-anchor="start" dominant-baseline="central" fill="#2a2a2a" transform="translate(71.3 621.94) scale(1 1.1)" stroke="#2a2a2a" stroke-width="0.15">E 7138 ..</text>
<text x="0" y="0" font-size="15.3" text-anchor="middle" dominant-baseline="central" fill="#2a2a2a" transform="translate(178.3 621.94) scale(1 1.1)" stroke="#2a2a2a" stroke-width="0.15">500</text>
<text x="0" y="0" font-size="15.3" text-anchor="middle" dominant-baseline="central" fill="#2a2a2a" transform="translate(232.9 621.94) scale(1 1.1)" stroke="#2a2a2a" stroke-width="0.15">390</text>
<text x="0" y="0" font-size="15.3" text-anchor="middle" dominant-baseline="central" fill="#2a2a2a" transform="translate(287.5 621.94) scale(1 1.1)" stroke="#2a2a2a" stroke-width="0.15">285</text>
<text x="0" y="0" font-size="15.3" text-anchor="middle" dominant-baseline="central" fill="#2a2a2a" transform="translate(342.1 621.94) scale(1 1.1)" stroke="#2a2a2a" stroke-width="0.15">190</text>
<text x="0" y="0" font-size="15.3" text-anchor="middle" dominant-baseline="central" fill="#2a2a2a" transform="translate(396.7 621.94) scale(1 1.1)" stroke="#2a2a2a" stroke-width="0.15">460</text>
<text x="0" y="0" font-size="15.3" text-anchor="middle" dominant-baseline="central" fill="#2a2a2a" transform="translate(451.3 621.94) scale(1 1.1)" stroke="#2a2a2a" stroke-width="0.15">140</text>
<text x="0" y="0" font-size="15.3" text-anchor="middle" dominant-baseline="central" fill="#2a2a2a" transform="translate(505.9 621.94) scale(1 1.1)" stroke="#2a2a2a" stroke-width="0.15">175</text>
<text x="0" y="0" font-size="15.3" text-anchor="middle" dominant-baseline="central" fill="#2a2a2a" transform="translate(560.5 621.94) scale(1 1.1)" stroke="#2a2a2a" stroke-width="0.15">470</text>
<text x="0" y="0" font-size="15.3" text-anchor="middle" dominant-baseline="central" fill="#2a2a2a" transform="translate(615.2 619.24) scale(1 1.1)" stroke="#2a2a2a" stroke-width="0.15">190</text>
<text x="0" y="0" font-size="15.3" text-anchor="middle" dominant-baseline="central" fill="#2a2a2a" transform="translate(672.5 621.94) scale(1 1.1)" stroke="#2a2a2a" stroke-width="0.15">565</text>
<text x="0" y="0" font-size="15.3" text-anchor="middle" dominant-baseline="central" fill="#2a2a2a" transform="translate(732.4 621.94) scale(1 1.1)" stroke="#2a2a2a" stroke-width="0.15">615</text>
<text x="0" y="0" font-size="15.3" text-anchor="middle" dominant-baseline="central" fill="#2a2a2a" transform="translate(789.9 622.94) scale(1 1.1)" stroke="#2a2a2a" stroke-width="0.15">-----</text>
<text x="0" y="0" font-size="15.3" text-anchor="middle" dominant-baseline="central" fill="#2a2a2a" transform="translate(844.95 622.94) scale(1 1.1)" stroke="#2a2a2a" stroke-width="0.15">-----</text>
<ellipse cx="921.15" cy="623.34" rx="3.5" ry="3.8" fill="#161616"/>
<text x="0" y="0" font-size="15.3" text-anchor="start" dominant-baseline="central" fill="#2a2a2a" transform="translate(71.3 648.51) scale(1 1.1)" stroke="#2a2a2a" stroke-width="0.15">E 7137 ..*</text>
<text x="0" y="0" font-size="15.3" text-anchor="middle" dominant-baseline="central" fill="#2a2a2a" transform="translate(178.3 648.51) scale(1 1.1)" stroke="#2a2a2a" stroke-width="0.15">400</text>
<text x="0" y="0" font-size="15.3" text-anchor="middle" dominant-baseline="central" fill="#2a2a2a" transform="translate(232.9 648.51) scale(1 1.1)" stroke="#2a2a2a" stroke-width="0.15">310</text>
<text x="0" y="0" font-size="15.3" text-anchor="middle" dominant-baseline="central" fill="#2a2a2a" transform="translate(287.5 648.51) scale(1 1.1)" stroke="#2a2a2a" stroke-width="0.15">205</text>
<text x="0" y="0" font-size="15.3" text-anchor="middle" dominant-baseline="central" fill="#2a2a2a" transform="translate(342.1 648.51) scale(1 1.1)" stroke="#2a2a2a" stroke-width="0.15">175</text>
<text x="0" y="0" font-size="15.3" text-anchor="middle" dominant-baseline="central" fill="#2a2a2a" transform="translate(396.7 648.51) scale(1 1.1)" stroke="#2a2a2a" stroke-width="0.15">360</text>
<text x="0" y="0" font-size="15.3" text-anchor="middle" dominant-baseline="central" fill="#2a2a2a" transform="translate(451.3 648.51) scale(1 1.1)" stroke="#2a2a2a" stroke-width="0.15">125</text>
<text x="0" y="0" font-size="15.3" text-anchor="middle" dominant-baseline="central" fill="#2a2a2a" transform="translate(505.9 648.51) scale(1 1.1)" stroke="#2a2a2a" stroke-width="0.15">160</text>
<text x="0" y="0" font-size="15.3" text-anchor="middle" dominant-baseline="central" fill="#2a2a2a" transform="translate(560.5 648.51) scale(1 1.1)" stroke="#2a2a2a" stroke-width="0.15">455</text>
<text x="0" y="0" font-size="15.3" text-anchor="middle" dominant-baseline="central" fill="#2a2a2a" transform="translate(615.2 648.51) scale(1 1.1)" stroke="#2a2a2a" stroke-width="0.15">195</text>
<text x="0" y="0" font-size="15.3" text-anchor="middle" dominant-baseline="central" fill="#2a2a2a" transform="translate(672.5 648.51) scale(1 1.1)" stroke="#2a2a2a" stroke-width="0.15">580</text>
<text x="0" y="0" font-size="15.3" text-anchor="middle" dominant-baseline="central" fill="#2a2a2a" transform="translate(732.4 648.51) scale(1 1.1)" stroke="#2a2a2a" stroke-width="0.15">630</text>
<text x="0" y="0" font-size="15.3" text-anchor="middle" dominant-baseline="central" fill="#2a2a2a" transform="translate(789.9 649.51) scale(1 1.1)" stroke="#2a2a2a" stroke-width="0.15">-----</text>
<text x="0" y="0" font-size="15.3" text-anchor="middle" dominant-baseline="central" fill="#2a2a2a" transform="translate(844.95 649.51) scale(1 1.1)" stroke="#2a2a2a" stroke-width="0.15">-----</text>
<ellipse cx="921.15" cy="649.91" rx="3.5" ry="3.8" fill="#161616"/>
<text x="0" y="0" font-size="15.3" text-anchor="start" dominant-baseline="central" fill="#2a2a2a" transform="translate(71.3 684.3) scale(1 1.1)" stroke="#2a2a2a" stroke-width="0.15">* bez sloupu</text>
</svg></body></html>
